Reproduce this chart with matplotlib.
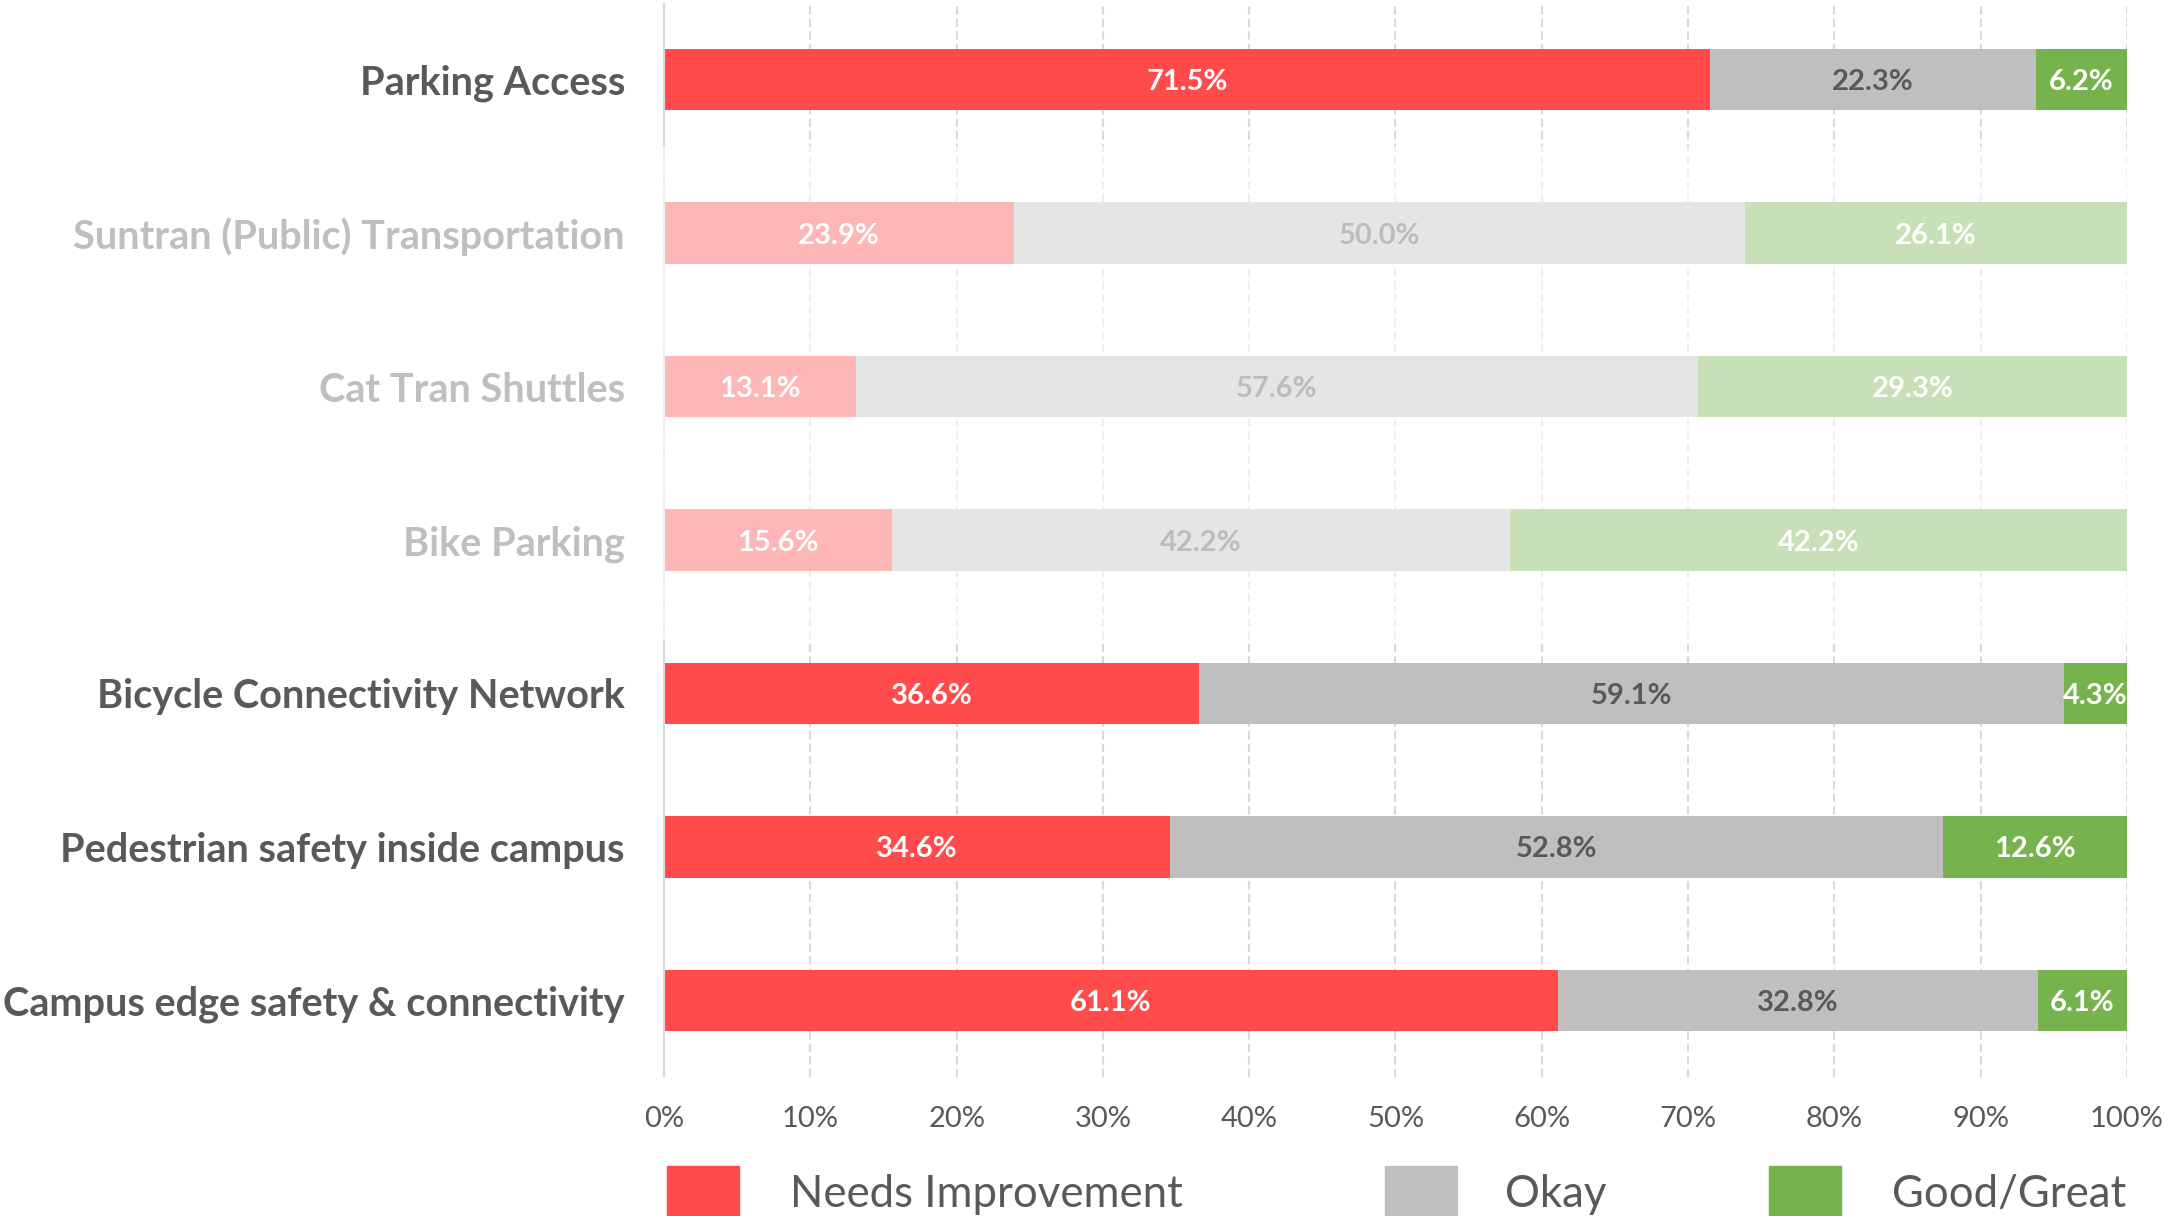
import matplotlib
matplotlib.use("Agg")
import matplotlib.pyplot as plt
from matplotlib.patches import Rectangle

plt.rcParams['font.family'] = ['Lato', 'DejaVu Sans']

categories = ["Parking Access", "Suntran (Public) Transportation", "Cat Tran Shuttles",
              "Bike Parking", "Bicycle Connectivity Network",
              "Pedestrian safety inside campus", "Campus edge safety & connectivity"]
needs = [71.5, 23.9, 13.1, 15.6, 36.6, 34.6, 61.1]
okay = [22.3, 50.0, 57.6, 42.2, 59.1, 52.8, 32.8]
good = [6.2, 26.1, 29.3, 42.2, 4.3, 12.6, 6.1]
highlight = [True, False, False, False, True, True, True]
series_names = ["Needs Improvement", "Okay", "Good/Great"]
xticks = [0, 10, 20, 30, 40, 50, 60, 70, 80, 90, 100]

RED = "#FF4B4B"
GRAY = "#BFBFBF"
GREEN = "#77B34C"
TXT = "#595959"
FADED_TXT = "#BFBFBF"
colors = [RED, GRAY, GREEN]
label_colors = ["white", TXT, "white"]


def main():
    fig = plt.figure(figsize=(21.65, 12.16), dpi=100)
    ax = fig.add_axes([0.3047, 0.1143, 0.9824 - 0.3047, 0.8832])

    n = len(categories)
    ypos = [n - 1 - i for i in range(n)]

    left = [0.0] * n
    for vals, c, lc in zip([needs, okay, good], colors, label_colors):
        ax.barh(ypos, vals, left=left, height=0.4, color=c, zorder=2)
        for y, l, v in zip(ypos, left, vals):
            ax.text(l + v / 2, y, f"{v:.1f}%", ha="center", va="center_baseline",
                    color=lc, fontsize=21, fontweight="bold", zorder=4)
        left = [a + b for a, b in zip(left, vals)]

    ax.set_xlim(-0.3, 100)
    ax.set_ylim(-0.5, 6.5)

    # grid and axis line
    ax.set_xticks(xticks)
    ax.set_xticklabels([f"{t}%" for t in xticks], fontsize=21, color=TXT)
    ax.tick_params(axis="x", length=0, pad=21)
    ax.xaxis.grid(True, color="#D9D9D9", linewidth=1.5, linestyle=(0, (4, 2)), zorder=0)
    ax.axvline(0, color="#D9D9D9", linewidth=1.5, zorder=3)
    ax.set_axisbelow(True)
    for s in ax.spines.values():
        s.set_visible(False)

    ax.set_yticks(ypos)
    ax.set_yticklabels(categories, fontsize=28.5, fontweight="bold")
    ax.tick_params(axis="y", length=0, pad=25)
    for lab, h in zip(ax.get_yticklabels(), highlight):
        lab.set_color(TXT if h else FADED_TXT)

    # fade the rows that are not highlighted
    ax.axhspan(2.35, 5.57, color="white", alpha=0.6, zorder=5, linewidth=0)

    # legend
    patch_x = [667, 1385, 1769]
    text_x = [790, 1505, 1892]
    W, H = 2165, 1216
    for px, tx, c, name in zip(patch_x, text_x, colors, series_names):
        fig.patches.append(Rectangle((px / W, -0.02), 72 / W, (H - 1166) / H + 0.02,
                                     transform=fig.transFigure, color=c))
        fig.text(tx / W, 1 - 1207 / H, name, fontsize=31.5, color=TXT,
                 ha="left", va="baseline")

    fig.savefig("out.png", dpi=100)


if __name__ == "__main__":
    main()
